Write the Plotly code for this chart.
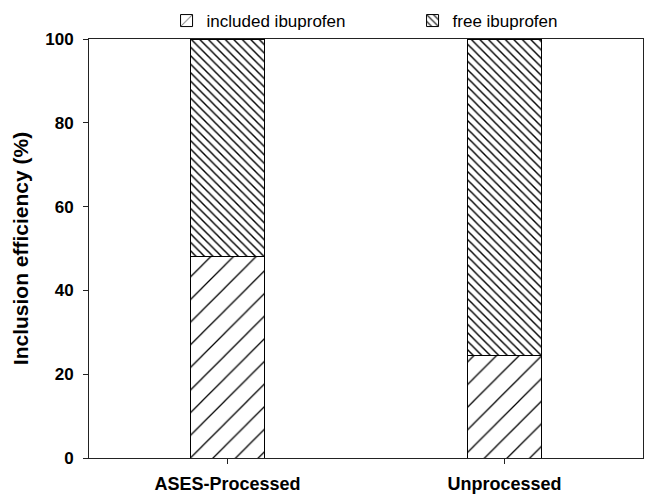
import plotly.graph_objects as go

categories = ["ASES-Processed", "Unprocessed"]
included = [48.0, 24.5]
free = [52.0, 75.5]
y_ticks = [0, 20, 40, 60, 80, 100]

FONT = "Liberation Sans, Arial, sans-serif"

fig = go.Figure()
fig.add_trace(go.Bar(
    x=categories, y=included, name="included ibuprofen", width=0.265,
    marker=dict(color="white", line=dict(color="black", width=1),
                pattern=dict(shape="/", size=16, solidity=0.08,
                             fgcolor="black", fgopacity=1, bgcolor="white")),
))
fig.add_trace(go.Bar(
    x=categories, y=free, name="free ibuprofen", width=0.265,
    marker=dict(color="white", line=dict(color="black", width=1),
                pattern=dict(shape="\\", size=6, solidity=0.24,
                             fgcolor="black", fgopacity=1, bgcolor="white")),
))

fig.update_layout(
    barmode="stack",
    width=647, height=495,
    margin=dict(l=89, r=4, t=39, b=37, autoexpand=False),
    paper_bgcolor="white", plot_bgcolor="white",
    font=dict(family=FONT, color="black"),
    showlegend=True,
    legend=dict(orientation="h", x=0.14, xanchor="left", y=1.0, yanchor="bottom",
                yref="paper", font=dict(size=17, family=FONT),
                entrywidth=201, entrywidthmode="pixels",
                bgcolor="rgba(0,0,0,0)", traceorder="normal",
                itemclick=False),
)
fig.update_xaxes(
    showline=True, linecolor="#222", linewidth=1, mirror=True,
    ticks="outside", ticklen=5, tickcolor="#222",
    ticklabelstandoff=4,
    tickfont=dict(size=18, family=FONT, weight="bold"),
    showgrid=False, zeroline=False, range=[-0.5, 1.5],
)
fig.update_yaxes(
    range=[0, 100], tickvals=y_ticks,
    showline=True, linecolor="#222", linewidth=1, mirror=True,
    ticks="outside", ticklen=5, tickcolor="#222",
    ticklabelstandoff=6,
    tickfont=dict(size=17, family=FONT, weight="bold"),
    showgrid=False, zeroline=False,
    title=dict(text="Inclusion efficiency (%)", standoff=10,
               font=dict(size=21, family=FONT, weight="bold")),
)

fig.write_html(
    "out.html",
    config={"displayModeBar": False},
    post_script="document.body.style.margin='0';document.body.style.overflow='hidden';",
)
